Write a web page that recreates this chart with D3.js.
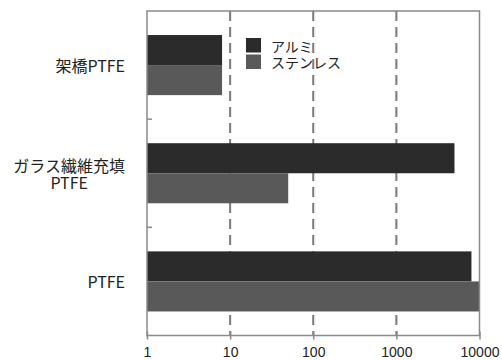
<!DOCTYPE html>
<html>
<head>
<meta charset="utf-8">
<script src="https://cdn.jsdelivr.net/npm/d3@7"></script>
<style>
  html, body { margin: 0; padding: 0; background: #fff; }
  svg { display: block; font-family: "Noto Sans CJK JP", "Noto Sans", sans-serif; }
</style>
</head>
<body>
<svg id="chart" width="502" height="360"></svg>
<script>
// Materials (one row each), with per-series values on a log scale
const categories = ["架橋PTFE", "ガラス繊維充填\nPTFE", "PTFE"];
const seriesNames = ["アルミ", "ステンレス"];
const alumiValues = [8, 5000, 8000];
const stainlessValues = [8, 50, 10000];
const tickValues = [1, 10, 100, 1000, 10000];
const tickLabels = ["1", "10", "100", "1000", "10000"];

const seriesColors = ["#2b2b2b", "#595959"];
const seriesValues = [alumiValues, stainlessValues];

const svg = d3.select("#chart");
const plotLeft = 147, plotRight = 479.5, plotTop = 11, plotBottom = 335.5;

const x = d3.scaleLog().domain([1, 10000]).range([plotLeft, plotRight]);
const y = d3.scaleBand().domain(categories).range([plotTop, plotBottom]).paddingInner(0).paddingOuter(0);
const ySub = d3.scaleBand().domain(seriesNames).range([0, y.bandwidth()]).paddingInner(0).paddingOuter(0.8);

// Dashed vertical gridlines at inner decades
svg.append("g").selectAll("line")
  .data(tickValues.slice(1, -1))
  .join("line")
  .attr("x1", d => x(d)).attr("x2", d => x(d))
  .attr("y1", plotTop).attr("y2", plotBottom)
  .attr("stroke", "#7a7a7a")
  .attr("stroke-width", 2)
  .attr("stroke-dasharray", "10,6");

// Bars
const rows = [];
categories.forEach((c, i) => {
  seriesNames.forEach((s, j) => rows.push({ cat: c, series: s, value: seriesValues[j][i], color: seriesColors[j] }));
});
svg.append("g").selectAll("rect")
  .data(rows)
  .join("rect")
  .attr("x", x(1))
  .attr("y", d => y(d.cat) + ySub(d.series))
  .attr("width", d => x(d.value) - x(1))
  .attr("height", ySub.bandwidth())
  .attr("fill", d => d.color);

// Plot frame
svg.append("rect")
  .attr("x", plotLeft).attr("y", plotTop)
  .attr("width", plotRight - plotLeft).attr("height", plotBottom - plotTop)
  .attr("fill", "none")
  .attr("stroke", "#8a8a8a")
  .attr("stroke-width", 1.5);

// Bottom axis: ticks and labels
const xAxis = d3.axisBottom(x)
  .tickValues(tickValues)
  .tickFormat((d, i) => tickLabels[i])
  .tickSize(4)
  .tickPadding(8);
const gx = svg.append("g").attr("transform", `translate(0,${plotBottom})`).call(xAxis);
gx.select(".domain").remove();
gx.selectAll(".tick line")
  .attr("y1", -4).attr("y2", 4)
  .attr("stroke", "#8a8a8a").attr("stroke-width", 1.5);
gx.selectAll(".tick text")
  .attr("fill", "#222")
  .style("font-size", "14px")
  .style("font-family", "'Liberation Sans', Arial, sans-serif");

// Small inward ticks between categories on the left edge
svg.append("g").selectAll("line")
  .data(categories.slice(1))
  .join("line")
  .attr("x1", plotLeft).attr("x2", plotLeft + 5)
  .attr("y1", d => y(d)).attr("y2", d => y(d))
  .attr("stroke", "#8a8a8a").attr("stroke-width", 1.5);

// Category labels
const labelRight = 125;
const labelSize = "16px";
categories.forEach(c => {
  const lines = c.split("\n");
  const cy = y(c) + y.bandwidth() / 2;
  const lh = 17;
  const t = svg.append("text")
    .attr("fill", "#222")
    .style("font-size", labelSize)
    .attr("dominant-baseline", "central");
  if (lines.length === 1) {
    t.attr("x", labelRight).attr("y", cy).attr("text-anchor", "end").text(lines[0]);
  } else {
    // Multi-line labels are centred on each other, block right-aligned
    const tmp = svg.append("text").style("font-size", labelSize).text(lines[0]);
    const w = tmp.node().getComputedTextLength();
    tmp.remove();
    const cx = labelRight - w / 2;
    lines.forEach((ln, k) => {
      t.append("tspan")
        .attr("x", cx)
        .attr("y", cy + (k - (lines.length - 1) / 2) * lh)
        .attr("text-anchor", "middle")
        .text(ln);
    });
  }
});

// Legend
const legend = svg.append("g").attr("transform", "translate(246,38)");
seriesNames.forEach((s, i) => {
  legend.append("rect")
    .attr("x", 0).attr("y", i * 16.5)
    .attr("width", 15).attr("height", 14.5)
    .attr("fill", seriesColors[i]);
  legend.append("text")
    .attr("x", 25).attr("y", i * 16.5 + 7.5)
    .attr("dominant-baseline", "central")
    .attr("fill", "#222")
    .style("font-size", "14px")
    .text(s);
});
</script>
</body>
</html>
